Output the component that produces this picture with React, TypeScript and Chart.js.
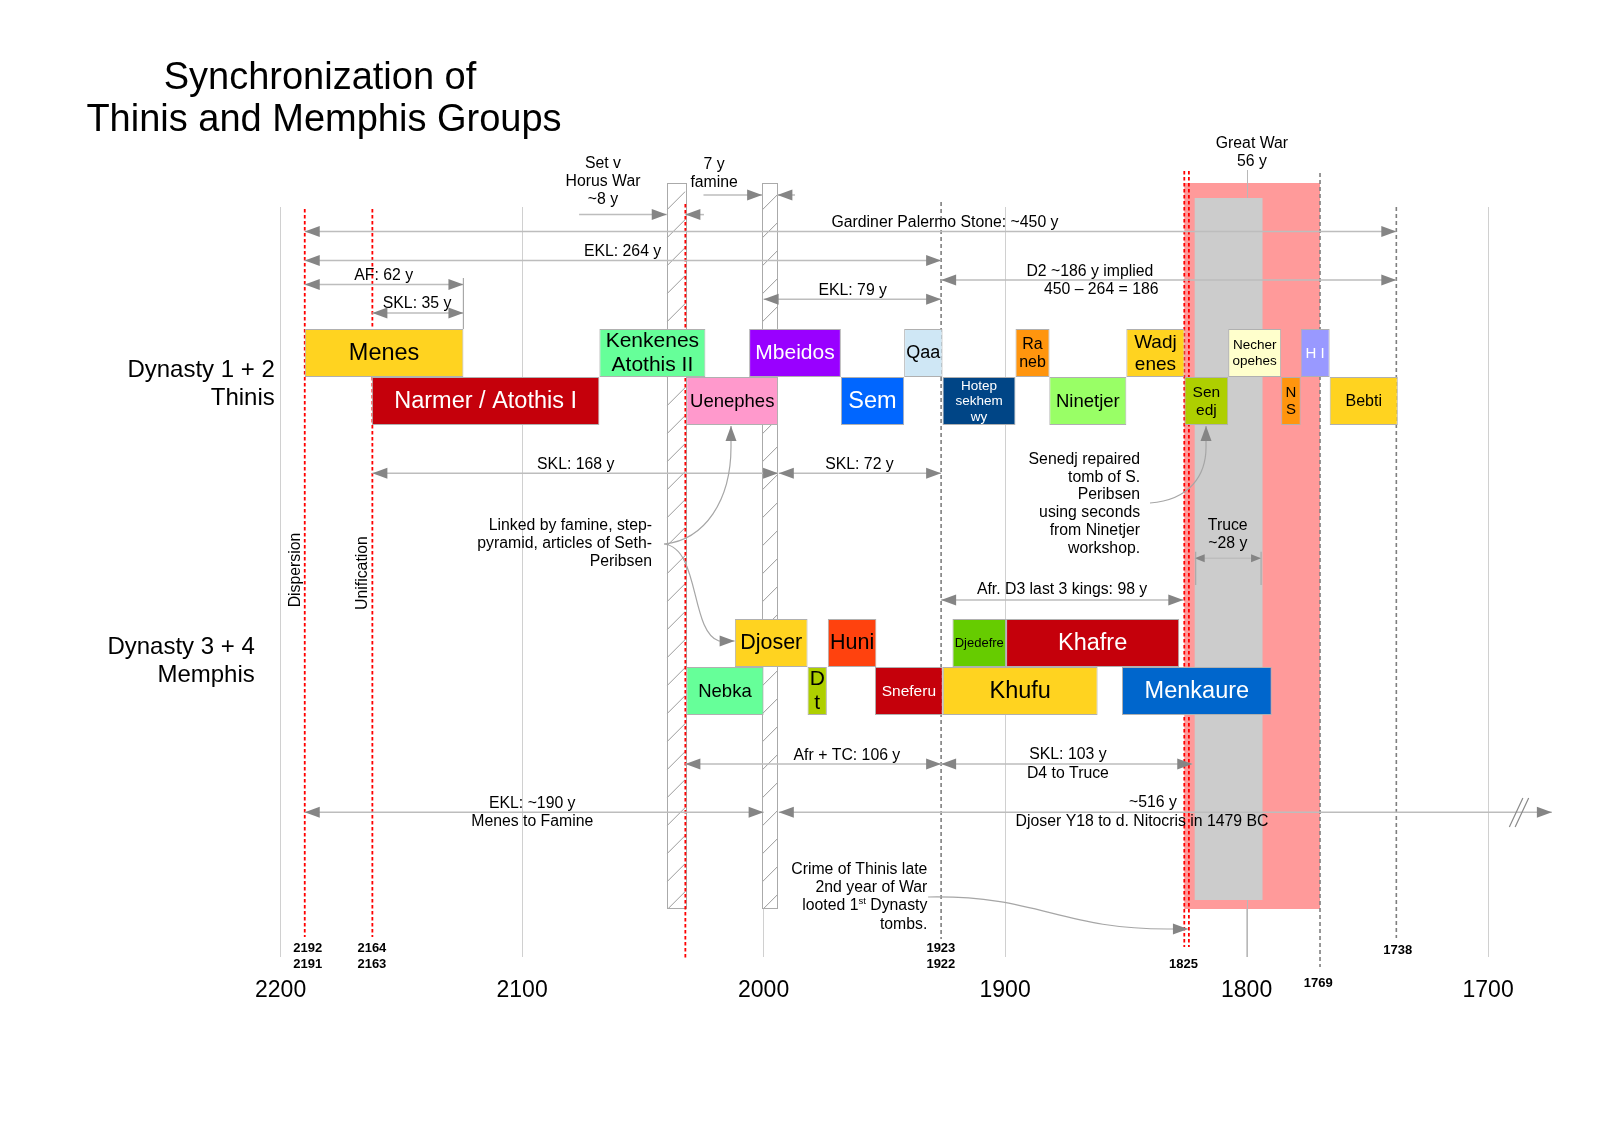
import React, { useEffect, useRef } from 'react';
import { Chart, registerables } from 'chart.js';

Chart.register(...registerables);

const FONT = "'Liberation Sans', Arial, Helvetica, sans-serif";
Chart.defaults.font.family = FONT;

// ---------------- data ----------------
const X_TICKS = [2200, 2100, 2000, 1900, 1800, 1700];

const KING_LABELS = [
  'Menes', 'Kenkenes\nAtothis II', 'Mbeidos', 'Qaa', 'Ra\nneb', 'Wadj\nenes', 'Necher\nopehes', 'H I',
  'Narmer / Atothis I', 'Uenephes', 'Sem', 'Hotep\nsekhem\nwy', 'Ninetjer', 'Sen\nedj', 'N\nS', 'Bebti',
  'Djoser', 'Huni', 'Djedefre', 'Khafre',
  'Nebka', 'D\nt', 'Sneferu', 'Khufu', 'Menkaure',
];
const KING_START = [
  2190, 2068, 2006, 1941.8, 1895.7, 1849.8, 1807.6, 1777.6,
  2162.2, 2032, 1968, 1925.9, 1881.7, 1825.7, 1785.7, 1765.6,
  2011.9, 1973.4, 1921.8, 1899.6,
  2032, 1981.8, 1953.9, 1925.8, 1851.6,
];
const KING_END = [
  2124.3, 2024.1, 1968, 1925.9, 1881.6, 1825.7, 1785.7, 1765.6,
  2068, 1994, 1941.8, 1895.7, 1849.8, 1807.6, 1777.6, 1737.4,
  1981.8, 1953.3, 1899.6, 1827.9,
  2000, 1973.8, 1925.8, 1861.7, 1789.6,
];
// lane: 0/1 = Dynasty 1+2 upper/lower, 2/3 = Dynasty 3+4 upper/lower
const KING_LANE = [0, 0, 0, 0, 0, 0, 0, 0, 1, 1, 1, 1, 1, 1, 1, 1, 2, 2, 2, 2, 3, 3, 3, 3, 3];

const ROW_TITLES = [['Dynasty 1 + 2', 'Thinis'], ['Dynasty 3 + 4', 'Memphis']];

const WAR_YEARS = [2040.1, 2032.4];
const FAMINE_YEARS = [2000.6, 1994.3];
const GREAT_WAR_YEARS = [1825.8, 1769.6];
const TRUCE_YEARS = [1821.5, 1793.4];

const MARKER_YEARS = [2190, 2162, 2032.4, 1926.5, 1825.8, 1823.9, 1769.6, 1738];
const MARKER_RED = [true, true, true, false, true, true, false, false];

const YEAR_TAGS = ['2192', '2191', '2164', '2163', '1923', '1922', '1825', '1769', '1738'];
const YEAR_TAG_AT = [2188.8, 2188.8, 2162.2, 2162.2, 1926.6, 1926.6, 1826.1, 1770.3, 1737.4];

// measured spans (years)
const SPAN_FROM = [2190, 2190, 2190, 2162, 2000, 1926.5, 2076.4, 2024.7, 2024.9, 1987, 2162, 1993.7, 1926.5, 1821.5, 2032.4, 1926.5, 2190, 1993.7];
const SPAN_TO = [1738, 1926.5, 2124.3, 2124.3, 1926.5, 1738, 2040.1, 2032.4, 2000.6, 1994.3, 1994.0, 1926.5, 1826.2, 1794.0, 1926.5, 1822.5, 2000, 1673.6];

// ---------------- layout / style ----------------
const LANE_Y = [353, 401, 643, 691];
const BAR_THICKNESS = 48;
const KING_COLORS = [
  '#ffd320', '#66ff99', '#9900ff', '#cfe7f5', '#ff950e', '#ffd320', '#ffffcc', '#9999ff',
  '#c5000b', '#ff99cc', '#0066ff', '#004586', '#99ff66', '#aecf00', '#ff950e', '#ffd320',
  '#ffd320', '#ff420e', '#66cc00', '#c5000b',
  '#66ff99', '#aecf00', '#c5000b', '#ffd320', '#0066cc',
];
const WHITE_TEXT = new Set(['Mbeidos', 'H I', 'Narmer / Atothis I', 'Sem', 'Hotep\nsekhem\nwy', 'Khafre', 'Sneferu', 'Menkaure']);
const KING_FONT = [23.5, 21, 21, 18, 16, 19, 13.5, 15, 23.5, 18.5, 23.5, 13.5, 18.5, 15.5, 15, 16, 21.5, 21.5, 13, 23.5, 18.5, 21, 15.5, 23.5, 23.5];

const MARKER_EXTENT = [[209, 937], [209, 937], [204, 958], [202, 939], [171, 947], [171, 947], [173, 967], [207, 938]];
const YEAR_TAG_Y = [948, 964, 948, 964, 948, 964, 964, 983, 950];
const SPAN_Y = [231.5, 260.5, 284.5, 313, 299.3, 280, 214.6, 214.6, 195, 195, 473.3, 473.3, 600, 558.3, 764, 764, 812.3, 812.3];
const SPAN_BOTH = [true, true, true, true, true, true, false, false, false, false, true, true, true, true, true, true, true, true];
const SPAN_SMALL = [false, false, false, false, false, false, false, false, false, false, false, false, false, true, false, false, false, false];

type Note = { lines: string[]; x: number; y: number[]; align?: CanvasTextAlign };
const NOTES: Note[] = [
  { lines: ['Set v', 'Horus War', '~8 y'], x: 2066.5, y: [163.3, 181.4, 199.6] },
  { lines: ['7 y', 'famine'], x: 2020.5, y: [165, 183] },
  { lines: ['Gardiner Palermo Stone: ~450 y'], x: 1924.9, y: [222.5] },
  { lines: ['EKL: 264 y'], x: 2058.4, y: [251.5] },
  { lines: ['AF: 62 y'], x: 2157.3, y: [275.5] },
  { lines: ['SKL: 35 y'], x: 2143.5, y: [304] },
  { lines: ['EKL: 79 y'], x: 1963.1, y: [291] },
  { lines: ['D2 ~186 y implied'], x: 1864.9, y: [271.5] },
  { lines: ['450 \u2013 264 = 186'], x: 1860.2, y: [289.3] },
  { lines: ['Great War', '56 y'], x: 1797.8, y: [144, 161.5] },
  { lines: ['SKL: 168 y'], x: 2077.8, y: [464.3] },
  { lines: ['SKL: 72 y'], x: 1960.3, y: [464.3] },
  { lines: ['Linked by famine, step-', 'pyramid, articles of Seth-', 'Peribsen'], x: 2046.2, y: [526, 544, 562], align: 'right' },
  { lines: ['Senedj repaired', 'tomb of S.', 'Peribsen', 'using seconds', 'from Ninetjer', 'workshop.'], x: 1844.1, y: [459.3, 477.3, 495, 512.7, 530.7, 548.7], align: 'right' },
  { lines: ['Truce', '~28 y'], x: 1807.8, y: [525.7, 543.3] },
  { lines: ['Afr. D3 last 3 kings: 98 y'], x: 1876.4, y: [590] },
  { lines: ['Afr + TC: 106 y'], x: 1965.5, y: [755.7] },
  { lines: ['SKL: 103 y', 'D4 to Truce'], x: 1874, y: [755, 773.3] },
  { lines: ['EKL: ~190 y', 'Menes to Famine'], x: 2095.8, y: [803.3, 821.3] },
  { lines: ['~516 y'], x: 1838.8, y: [803] },
  { lines: ['Djoser Y18 to d. Nitocris in 1479 BC'], x: 1843.3, y: [821.5] },
  { lines: ['Crime of Thinis late', '2nd year of War'], x: 1932.2, y: [869.3, 888], align: 'right' },
  { lines: ['tombs.'], x: 1932.2, y: [924.3], align: 'right' },
];

const CURVES = [
  { p: [[2041.2, 544], [2024.2, 540], [2013.5, 500], [2013.5, 447]], tip: [2013.5, 426] },
  { p: [[2041.2, 544], [2026.3, 548], [2030.4, 632], [2018.5, 641]], tip: [2012, 641] },
  { p: [[1840, 503], [1823.4, 500], [1816.8, 475], [1816.8, 447]], tip: [1816.8, 426] },
  { p: [[1931.9, 897], [1885.5, 895], [1877.3, 930], [1830.9, 929]], tip: [1824.3, 929] },
];

const ANN = 15.8;
const LINE_C = '#bdbdbd';
const HEAD_C = '#858585';

function txt(ctx: CanvasRenderingContext2D, s: string, x: number, y: number, size: number, align: CanvasTextAlign = 'center', color = '#000', weight = '') {
  ctx.font = `${weight} ${size}px ${FONT}`.trim();
  ctx.fillStyle = color;
  ctx.textAlign = align;
  ctx.textBaseline = 'middle';
  ctx.fillText(s, x, y);
}

function head(ctx: CanvasRenderingContext2D, tx: number, ty: number, dx: number, dy: number, len = 15, hw = 5.5) {
  const l = Math.hypot(dx, dy) || 1;
  dx /= l; dy /= l;
  const nx = -dy, ny = dx;
  ctx.fillStyle = HEAD_C;
  ctx.beginPath();
  ctx.moveTo(tx, ty);
  ctx.lineTo(tx - dx * len + nx * hw, ty - dy * len + ny * hw);
  ctx.lineTo(tx - dx * len - nx * hw, ty - dy * len - ny * hw);
  ctx.closePath();
  ctx.fill();
}

const overlay = {
  id: 'overlay',
  beforeDatasetsDraw(chart: any) {
    const { ctx } = chart;
    const xs = chart.scales.x, ys = chart.scales.y;
    const X = (v: number) => xs.getPixelForValue(v);
    const Y = (v: number) => ys.getPixelForValue(v);
    ctx.save();
    // Great War
    ctx.fillStyle = '#ff9a9a';
    ctx.fillRect(X(GREAT_WAR_YEARS[0]), Y(183), X(GREAT_WAR_YEARS[1]) - X(GREAT_WAR_YEARS[0]), Y(909) - Y(183));
    // connector line from "56 y"
    ctx.strokeStyle = '#b8b8b8';
    ctx.lineWidth = 1;
    ctx.beginPath();
    ctx.moveTo(Math.round(X(1800)) + 0.5, Y(170));
    ctx.lineTo(Math.round(X(1800)) + 0.5, Y(957));
    ctx.stroke();
    // Truce
    ctx.fillStyle = '#cccccc';
    ctx.fillRect(X(TRUCE_YEARS[0]), Y(198), X(TRUCE_YEARS[1]) - X(TRUCE_YEARS[0]), Y(900) - Y(198));

    // hatched columns
    for (const span of [WAR_YEARS, FAMINE_YEARS]) {
      const x1 = X(span[0]), x2 = X(span[1]);
      const t = Y(183), b = Y(908);
      ctx.fillStyle = '#ffffff';
      ctx.fillRect(x1, t, x2 - x1, b - t);
      ctx.save();
      ctx.beginPath();
      ctx.rect(x1, t, x2 - x1, b - t);
      ctx.clip();
      ctx.strokeStyle = '#8f8f8f';
      ctx.lineWidth = 0.9;
      const w = x2 - x1;
      for (let yy = t + 27; yy < b + w + 28; yy += 28) {
        ctx.beginPath();
        ctx.moveTo(x1, yy);
        ctx.lineTo(x2, yy - w);
        ctx.stroke();
      }
      ctx.restore();
      ctx.strokeStyle = '#aaaaaa';
      ctx.lineWidth = 1;
      ctx.strokeRect(Math.round(x1) + 0.5, Math.round(t) + 0.5, Math.round(w), Math.round(b - t));
    }

    // marker lines
    MARKER_YEARS.forEach((yr, i) => {
      const x = X(yr);
      const [t, b] = MARKER_EXTENT[i];
      ctx.beginPath();
      if (MARKER_RED[i]) {
        ctx.strokeStyle = '#ff0000';
        ctx.lineWidth = 1.8;
        ctx.setLineDash([3.5, 2.5]);
      } else {
        ctx.strokeStyle = '#7f7f7f';
        ctx.lineWidth = 1.6;
        ctx.setLineDash([4, 3]);
      }
      ctx.moveTo(x, Y(t));
      ctx.lineTo(x, Y(b));
      ctx.stroke();
    });
    ctx.setLineDash([]);
    ctx.restore();
  },
  afterDatasetsDraw(chart: any) {
    const { ctx } = chart;
    const xs = chart.scales.x, ys = chart.scales.y;
    const X = (v: number) => xs.getPixelForValue(v);
    const Y = (v: number) => ys.getPixelForValue(v);
    ctx.save();

    // bar labels
    const meta = chart.getDatasetMeta(0);
    meta.data.forEach((el: any, i: number) => {
      const c = el.getCenterPoint();
      const lines = KING_LABELS[i].split('\n');
      const size = KING_FONT[i];
      const lh = size * 1.15;
      const color = WHITE_TEXT.has(KING_LABELS[i]) ? '#ffffff' : '#000000';
      lines.forEach((ln, k) => {
        txt(ctx, ln, c.x, c.y + (k - (lines.length - 1) / 2) * lh + 0.5, size, 'center', color);
      });
    });

    // spans (double arrows)
    SPAN_FROM.forEach((from, i) => {
      const x1 = X(from), x2 = X(SPAN_TO[i]), y = Y(SPAN_Y[i]);
      ctx.strokeStyle = LINE_C;
      ctx.lineWidth = 1.5;
      ctx.beginPath();
      ctx.moveTo(x1, y);
      ctx.lineTo(x2, y);
      ctx.stroke();
      const len = SPAN_SMALL[i] ? 10 : 15;
      const hw = SPAN_SMALL[i] ? 4 : 5.5;
      head(ctx, x2, y, x2 - x1, 0, len, hw);
      if (SPAN_BOTH[i]) head(ctx, x1, y, x1 - x2, 0, len, hw);
    });
    // AF 62 y end tick
    ctx.strokeStyle = '#a8a8a8';
    ctx.lineWidth = 1.2;
    ctx.beginPath();
    ctx.moveTo(X(2124.3), Y(278));
    ctx.lineTo(X(2124.3), Y(329));
    ctx.stroke();
    // truce ticks
    ctx.beginPath();
    ctx.moveTo(X(TRUCE_YEARS[0]) + 1, Y(551.7));
    ctx.lineTo(X(TRUCE_YEARS[0]) + 1, Y(585));
    ctx.moveTo(X(1794.0), Y(551.7));
    ctx.lineTo(X(1794.0), Y(585));
    ctx.stroke();
    // break mark
    ctx.strokeStyle = '#8a8a8a';
    ctx.lineWidth = 1.2;
    ctx.beginPath();
    ctx.moveTo(X(1691.2), Y(827)); ctx.lineTo(X(1685.6), Y(798));
    ctx.moveTo(X(1688.8), Y(827)); ctx.lineTo(X(1683.2), Y(798));
    ctx.stroke();

    // curves
    CURVES.forEach((c) => {
      const p = c.p.map(([a, b]) => [X(a), Y(b)]);
      const tip = [X(c.tip[0]), Y(c.tip[1])];
      ctx.strokeStyle = '#a6a6a6';
      ctx.lineWidth = 1.2;
      ctx.beginPath();
      ctx.moveTo(p[0][0], p[0][1]);
      ctx.bezierCurveTo(p[1][0], p[1][1], p[2][0], p[2][1], p[3][0], p[3][1]);
      ctx.lineTo(tip[0], tip[1]);
      ctx.stroke();
      head(ctx, tip[0], tip[1], tip[0] - p[3][0], tip[1] - p[3][1], 15, 5.5);
    });

    // notes
    NOTES.forEach((n) => {
      n.lines.forEach((ln, k) => txt(ctx, ln, X(n.x), Y(n.y[k]), ANN, n.align || 'center'));
    });
    // "looted 1st Dynasty" with superscript
    {
      const right = X(1932.2), y = Y(906);
      ctx.font = `${ANN}px ${FONT}`;
      const a = 'looted 1', c2 = ' Dynasty';
      const wa = ctx.measureText(a).width, wc = ctx.measureText(c2).width;
      ctx.font = `${9.5}px ${FONT}`;
      const wb = ctx.measureText('st').width;
      const x0 = right - (wa + wb + wc);
      txt(ctx, a, x0, y, ANN, 'left');
      txt(ctx, 'st', x0 + wa, y - 5, 9.5, 'left');
      txt(ctx, c2, x0 + wa + wb, y, ANN, 'left');
    }
    // rotated labels
    [['Dispersion', 2193.7, 570], ['Unification', 2166, 573]].forEach(([s, yr, yy]) => {
      ctx.save();
      ctx.translate(X(yr as number), Y(yy as number));
      ctx.rotate(-Math.PI / 2);
      txt(ctx, s as string, 0, 0, ANN, 'center');
      ctx.restore();
    });

    // year tags
    YEAR_TAGS.forEach((s, i) => txt(ctx, s, X(YEAR_TAG_AT[i]), Y(YEAR_TAG_Y[i]), 13, 'center', '#000', 'bold'));

    // row titles
    ROW_TITLES[0].forEach((s, k) => txt(ctx, s, 274.8, Y(370 + k * 28), 24, 'right'));
    ROW_TITLES[1].forEach((s, k) => txt(ctx, s, 254.8, Y(647 + k * 28), 24, 'right'));

    // title
    txt(ctx, 'Synchronization of', 320, Y(78.5), 38, 'center');
    txt(ctx, 'Thinis and Memphis Groups', 324, Y(120.5), 38, 'center');

    ctx.restore();
  },
};

export default function App() {
  const ref = useRef<HTMLCanvasElement>(null);
  useEffect(() => {
    document.body.style.margin = '0';
    const chart = new Chart(ref.current as HTMLCanvasElement, {
      type: 'bar',
      data: {
        datasets: [
          {
            label: 'Kings',
            data: KING_START.map((s, i) => ({ x: [s, KING_END[i]], y: LANE_Y[KING_LANE[i]] })) as any,
            backgroundColor: KING_COLORS,
            borderColor: '#b0b0b0',
            borderWidth: 1,
            borderSkipped: false,
            barThickness: BAR_THICKNESS,
            inflateAmount: 0,
          } as any,
        ],
      },
      options: {
        indexAxis: 'y',
        animation: false,
        responsive: false,
        maintainAspectRatio: false,
        layout: { padding: { left: 280.6, right: 111.9, top: 207, bottom: 106 } },
        plugins: { legend: { display: false }, tooltip: { enabled: false }, title: { display: false } },
        scales: {
          x: {
            type: 'linear',
            min: 1700,
            max: 2200,
            reverse: true,
            position: 'bottom',
            grid: { color: '#d0d0d0', lineWidth: 1, drawTicks: false },
            border: { display: false },
            ticks: {
              padding: 20.2,
              color: '#000',
              font: { size: 23, family: FONT },
              maxRotation: 0,
              autoSkip: false,
              callback: (v: any) => String(v),
            },
            afterBuildTicks: (s: any) => {
              s.ticks = X_TICKS.map((v) => ({ value: v }));
            },
          },
          y: { type: 'linear', min: 207, max: 957, reverse: true, display: false, offset: false },
        },
      } as any,
      plugins: [overlay],
    });
    return () => chart.destroy();
  }, []);
  return (
    <div style={{ width: 1600, height: 1131, background: '#fff' }}>
      <canvas ref={ref} width={1600} height={1131} style={{ display: 'block', width: 1600, height: 1131 }} />
    </div>
  );
}
